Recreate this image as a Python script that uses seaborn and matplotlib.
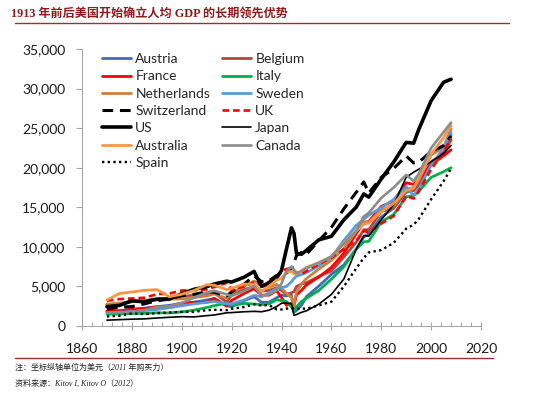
import seaborn as sns
import matplotlib.pyplot as plt
import matplotlib.ticker as mticker
import pandas as pd

## data (GDP per capita)
years = [1870, 1875, 1880, 1885, 1890, 1895, 1900, 1905, 1910, 1913,
         1918, 1920, 1925, 1929, 1932, 1935, 1938, 1940, 1942, 1944,
         1945, 1946, 1948, 1950, 1955, 1960, 1965, 1970, 1973, 1975,
         1980, 1985, 1990, 1993, 1995, 2000, 2005, 2008]

austria = [1863, 1950, 2079, 2250, 2443, 2600, 2882, 3000, 3290, 3465,
           2600, 2412, 3200, 3699, 3000, 3000, 3559, 3900, 3800, 3900,
           1725, 1956, 2600, 3706, 5053, 6519, 7734, 9747, 11235, 11646,
           13759, 14900, 16905, 17200, 17900, 20691, 21800, 24131]
belgium = [2692, 2800, 3065, 3200, 3428, 3500, 3731, 3900, 4064, 4220,
           3000, 3962, 4600, 4979, 4400, 4500, 4832, 4500, 4000, 4200,
           4333, 5000, 5300, 5462, 6279, 6952, 8700, 10611, 12170, 12170,
           14467, 14900, 17197, 17100, 17800, 20742, 21800, 23500]
france = [1876, 1900, 2120, 2200, 2376, 2500, 2876, 3000, 2980, 3485,
          2500, 3227, 4100, 4710, 3900, 3900, 4466, 3600, 2600, 2900,
          2573, 3900, 4500, 5186, 6200, 7398, 9200, 11664, 13114, 13200,
          15106, 15800, 18093, 17900, 18500, 20392, 21500, 22250]
italy = [1499, 1520, 1581, 1600, 1667, 1650, 1785, 2000, 2332, 2564,
         2900, 2587, 2850, 2778, 2700, 2800, 3316, 3200, 3100, 2400,
         1900, 2400, 3100, 3502, 4500, 5916, 7500, 9719, 10634, 10700,
         13149, 14100, 16313, 16500, 17000, 18774, 19500, 20000]
netherlands = [2757, 2900, 3082, 3200, 3323, 3400, 3424, 3600, 3789, 4049,
               3500, 4220, 5000, 5689, 5100, 4900, 5250, 4800, 4100, 3600,
               2621, 4300, 5300, 5996, 7200, 8287, 9800, 11967, 13082, 13100,
               14705, 15200, 17262, 17500, 18400, 21591, 22600, 24900]
sweden = [1662, 1750, 1846, 1950, 2086, 2300, 2561, 2800, 2980, 3096,
          2800, 2802, 3300, 3869, 3700, 4200, 4725, 4857, 5000, 5600,
          6000, 6300, 6500, 6739, 7600, 8688, 10800, 12716, 13494, 14000,
          14937, 16000, 17609, 16500, 17300, 20321, 22500, 24500]
switzerland = [2102, 2400, 2450, 2800, 3182, 3400, 3833, 4000, 4331, 4266,
               3800, 4314, 5300, 6332, 5600, 5700, 6390, 6397, 6700, 7200,
               8000, 8900, 9300, 9064, 10800, 12457, 14800, 16904, 18204, 16800,
               18779, 19900, 21482, 20600, 20700, 22025, 22800, 24000]
uk = [3190, 3400, 3477, 3570, 4009, 4100, 4492, 4500, 4611, 4921,
      5459, 4548, 5000, 5503, 5150, 5600, 5983, 6856, 7200, 7300,
      7056, 6700, 6600, 6939, 7800, 8645, 9700, 10767, 12025, 11800,
      12931, 13900, 16430, 16100, 17000, 19817, 22000, 23742]
us = [2445, 2599, 3184, 3055, 3392, 3400, 4091, 4642, 4964, 5301,
      5659, 5552, 6164, 6899, 5000, 5467, 6126, 7010, 9741, 12400,
      11709, 9197, 9065, 9561, 10897, 11328, 13419, 15030, 16689, 16284,
      18577, 20717, 23201, 23100, 24800, 28467, 30800, 31178]
japan = [737, 800, 863, 900, 1012, 1100, 1180, 1150, 1304, 1387,
         1668, 1696, 1800, 1850, 1800, 2000, 2449, 2874, 2900, 2800,
         1346, 1444, 1725, 1921, 2771, 3986, 5934, 9714, 11434, 11344,
         13428, 15331, 18789, 19436, 19800, 20738, 21800, 22816]
australia = [3273, 4100, 4300, 4500, 4600, 3700, 4013, 4500, 5210, 5157,
             4600, 4766, 5300, 5263, 4400, 5000, 5800, 6000, 6800, 6900,
             6600, 6600, 7000, 7412, 8000, 8791, 10500, 12024, 12878, 13000,
             14412, 15500, 17106, 17400, 18700, 21732, 23800, 25301]
canada = [1695, 1700, 1816, 2000, 2378, 2500, 2911, 3600, 4213, 4447,
          4000, 3800, 4400, 5065, 3800, 4000, 4500, 5368, 6900, 7500,
          7100, 6700, 6900, 7291, 8000, 8753, 10400, 12050, 13838, 14300,
          16176, 17500, 19100, 18300, 19200, 22488, 24500, 25700]
spain = [1207, 1300, 1581, 1500, 1624, 1700, 1786, 1800, 2000, 2056,
         2000, 2177, 2400, 2739, 2600, 2650, 2100, 2080, 2200, 2250,
         2200, 2200, 2200, 2189, 2600, 3072, 5000, 7300, 8600, 9300,
         9600, 10500, 12300, 12800, 13500, 16000, 18300, 19900]

countries = ['Austria', 'Belgium', 'France', 'Italy', 'Netherlands', 'Sweden',
             'Switzerland', 'UK', 'US', 'Japan', 'Australia', 'Canada', 'Spain']
series = [austria, belgium, france, italy, netherlands, sweden,
          switzerland, uk, us, japan, australia, canada, spain]

## line styles per country: color, width, dashes
styles = {
    'Austria':     ('#3E6DB5', 2.0, None),
    'Belgium':     ('#B5443F', 2.0, None),
    'France':      ('#FF0000', 2.0, None),
    'Italy':       ('#00B050', 2.0, None),
    'Netherlands': ('#CD7F3F', 2.0, None),
    'Sweden':      ('#5B9BD5', 2.0, None),
    'Switzerland': ('#000000', 2.2, (3.5, 2.2)),
    'UK':          ('#FF0000', 1.9, (2.5, 1.5)),
    'US':          ('#000000', 2.6, None),
    'Japan':       ('#000000', 1.2, None),
    'Australia':   ('#F79646', 2.0, None),
    'Canada':      ('#8C8C8C', 1.9, None),
    'Spain':       ('#000000', 1.7, (1, 1.4)),
}

df = pd.concat([pd.DataFrame({'year': years, 'gdp': vals, 'country': c})
                for c, vals in zip(countries, series)], ignore_index=True)

sns.set_theme(style='white')
plt.rcParams['font.family'] = ['Lato', 'DejaVu Sans']

fig = plt.figure(figsize=(5.39, 3.96), dpi=100)
ax = fig.add_axes([82/539, 1-326/396, 399/539, 277/396])

for c in countries:
    col, lw, dash = styles[c]
    sub = df[df.country == c]
    sns.lineplot(data=sub, x='year', y='gdp', ax=ax, color=col,
                 linewidth=lw, label=c, legend=False)
    if dash is not None:
        ax.lines[-1].set_dashes(dash)

ax.set_xlim(1860, 2020)
ax.set_ylim(0, 35000)
ax.set_xlabel('')
ax.set_ylabel('')
ax.xaxis.set_major_locator(mticker.MultipleLocator(20))
ax.xaxis.set_minor_locator(mticker.MultipleLocator(4))
ax.yaxis.set_major_locator(mticker.MultipleLocator(5000))
ax.yaxis.set_major_formatter(mticker.FuncFormatter(lambda v, p: f'{int(v):,}'))

for s in ['top', 'right']:
    ax.spines[s].set_visible(False)
for s in ['left', 'bottom']:
    ax.spines[s].set_color('#A6A6A6')
    ax.spines[s].set_linewidth(0.8)

ax.tick_params(axis='y', which='major', direction='out', length=4, width=0.8,
               color='#A6A6A6', pad=8, labelsize=10, labelcolor='#1a1a1a', left=True)
ax.tick_params(axis='x', which='major', direction='inout', length=6, width=0.8,
               color='#A6A6A6', pad=9, labelsize=10, labelcolor='#1a1a1a', bottom=True)
ax.tick_params(axis='x', which='minor', direction='in', length=3, width=0.8,
               color='#A6A6A6', bottom=True)

## legend in row order, 2 columns
handles, labels = ax.get_legend_handles_labels()
lookup = dict(zip(labels, handles))
order = countries[0::2] + countries[1::2]
ax.legend([lookup[k] for k in order], order, ncol=2, loc='upper left',
          bbox_to_anchor=(0.05, 0.985), frameon=False, fontsize=10,
          handlelength=2.1, handletextpad=0.3, columnspacing=0.85,
          labelspacing=0.38, borderpad=0, borderaxespad=0)

## title, rules and notes
red = '#8C1C1C'
fig.text(11/539, 1-14/396, '1913 年前后美国开始确立人均 GDP 的长期领先优势',
         family=['Liberation Serif', 'Noto Sans CJK SC'], fontweight='bold',
         fontsize=8.7, color=red, ha='left', va='center')
fig.add_artist(plt.Line2D([15/539, 509/539], [1-23.3/396, 1-23.3/396],
                          color='#9A3030', linewidth=1.0))
fig.add_artist(plt.Line2D([15/539, 493/539], [1-358.3/396, 1-358.3/396],
                          color='#9A3030', linewidth=1.0))
fig.text(15/539, 1-367.5/396, '注：坐标纵轴单位为美元（2011 年购买力）',
         family=['Liberation Serif', 'Noto Sans CJK SC'], style='italic',
         fontsize=5.8, color='#222222', ha='left', va='center')
fig.text(15/539, 1-383.5/396, '资料来源：Kitov I, Kitov O（2012）',
         family=['Liberation Serif', 'Noto Sans CJK SC'], style='italic',
         fontsize=5.8, color='#222222', ha='left', va='center')

fig.savefig('out.png', dpi=100)
